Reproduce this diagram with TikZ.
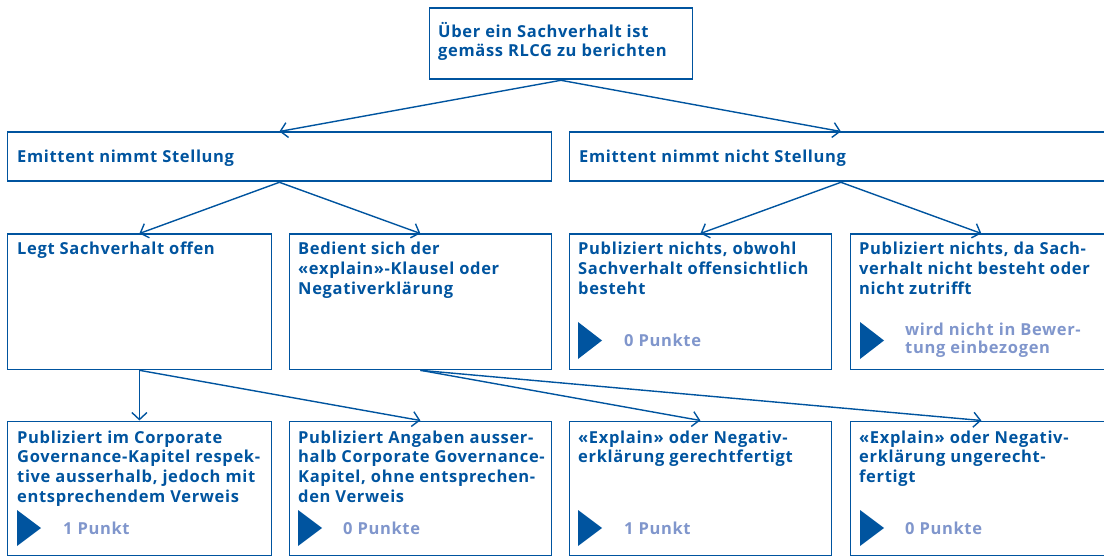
\documentclass[tikz,border=0pt]{standalone}
\usepackage{fontspec}
\setmainfont{Open Sans}[LetterSpace=4]
\usepackage{xcolor}
\usepackage{tikz}
\usetikzlibrary{arrows.meta}
\definecolor{rlcgblue}{RGB}{0,84,159}
\definecolor{rlcglight}{RGB}{128,150,204}
\tikzset{
	box/.style={draw=rlcgblue, line width=1.8pt, rectangle, inner sep=0pt, anchor=north west},
	txt/.style={anchor=base west, inner sep=0pt, align=left, text=rlcgblue, font=\bfseries\fontsize{16.5}{19.7}\selectfont},
	pts/.style={anchor=base west, inner sep=0pt, align=left, text=rlcglight, font=\bfseries\fontsize{16.5}{18.5}\selectfont},
	link/.style={draw=rlcgblue, line width=1.4pt, -{Straight Barb[length=7pt, width=15pt]}},
}

\begin{document}
\begin{tikzpicture}[x=1pt, y=-1pt]
		\useasboundingbox (0,0) rectangle (1104,556);
		% Boxes:
		\node[box, minimum width=263pt, minimum height=71pt] (top) at (428.5,7.5) {};
		\node[box, minimum width=544pt, minimum height=49pt] (emit) at (6.5,131.5) {};
		\node[box, minimum width=543pt, minimum height=49pt] (nemit) at (568.5,131.5) {};
		\node[box, minimum width=264pt, minimum height=135pt] (offen) at (6.5,233.5) {};
		\node[box, minimum width=262pt, minimum height=135pt] (explain) at (288.5,233.5) {};
		\node[box, minimum width=262pt, minimum height=135pt] (nichts) at (568.5,233.5) {};
		\node[box, minimum width=262pt, minimum height=135pt] (besteht) at (849.5,233.5) {};
		\node[box, minimum width=264pt, minimum height=134pt] (verweis) at (6.5,420.5) {};
		\node[box, minimum width=262pt, minimum height=134pt] (ohne) at (288.5,420.5) {};
		\node[box, minimum width=262pt, minimum height=134pt] (gerecht) at (568.5,420.5) {};
		\node[box, minimum width=262pt, minimum height=134pt] (ungerecht) at (849.5,420.5) {};

		% Texts (placed at the baseline of their last line):
		\node[txt] (top-t) at (438,57) {Über ein Sachverhalt ist\\gemäss RLCG zu berichten};
		\node[txt] (emit-t) at (17,162.5) {Emittent nimmt Stellung};
		\node[txt] (nemit-t) at (579,162.5) {Emittent nimmt nicht Stellung};
		\node[txt] (offen-t) at (17,255) {Legt Sachverhalt offen};
		\node[txt] (explain-t) at (298,294.4) {Bedient sich der\\«explain»-Klausel oder\\Negativerklärung};
		\node[txt] (nichts-t) at (578,294.4) {Publiziert nichts, obwohl\\Sachverhalt offensichtlich\\besteht};
		\node[txt] (besteht-t) at (859,294.4) {Publiziert nichts, da Sach-\\verhalt nicht besteht oder\\nicht zutrifft};
		\node[txt] (verweis-t) at (17,502.1) {Publiziert im Corporate\\Governance-Kapitel respek-\\tive ausserhalb, jedoch mit\\entsprechendem Verweis};
		\node[txt] (ohne-t) at (298,502.1) {Publiziert Angaben ausser-\\halb Corporate Governance-\\Kapitel, ohne entsprechen-\\den Verweis};
		\node[txt] (gerecht-t) at (578,462.7) {«Explain» oder Negativ-\\erklärung gerechtfertigt};
		\node[txt] (ungerecht-t) at (859,482.4) {«Explain» oder Negativ-\\erklärung ungerecht-\\fertigt};

		% Scores:
		\fill[rlcgblue] (578,322) -- (602,340.5) -- (578,359) -- cycle;
		\fill[rlcgblue] (860,322) -- (884,340.5) -- (860,359) -- cycle;
		\foreach \x in {17,298,578,860}
			\fill[rlcgblue] (\x,510) -- (\x+24,528) -- (\x,546) -- cycle;
		\node[pts] (nichts-p) at (624,347) {0 Punkte};
		\node[pts] (besteht-p) at (905,353.5) {wird nicht in Bewer-\\tung einbezogen};
		\node[pts] (verweis-p) at (63,534) {1 Punkt};
		\node[pts] (ohne-p) at (343,534) {0 Punkte};
		\node[pts] (gerecht-p) at (624,534) {1 Punkt};
		\node[pts] (ungerecht-p) at (905,534) {0 Punkte};

		% Connectors:
		\draw[link] (top.south) -- (emit.north);
		\draw[link] (top.south) -- (nemit.north);
		\draw[link] (emit.south) -- (offen.north);
		\draw[link] (emit.south) -- (explain.north);
		\draw[link] (nemit.south) -- (nichts.north);
		\draw[link] (nemit.south) -- (besteht.north);
		\draw[link] (offen.south) -- (verweis.north);
		\draw[link] (offen.south) -- (ohne.north);
		\draw[link] (explain.south) -- (gerecht.north);
		\draw[link] (explain.south) -- (ungerecht.north);
	\end{tikzpicture}
\end{document}
